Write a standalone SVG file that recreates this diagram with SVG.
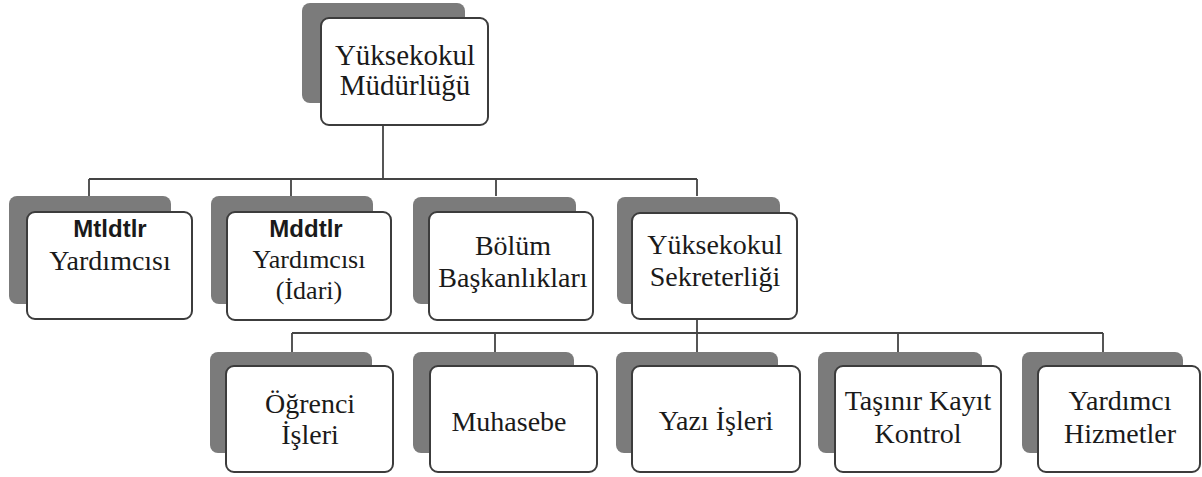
<svg xmlns="http://www.w3.org/2000/svg" width="1202" height="477" viewBox="0 0 1202 477">
<style>
.sh{fill:#7b7b7b;}
.bx{fill:#ffffff;stroke:#3c3c3c;stroke-width:2;}
.t{font-family:"Liberation Serif","Times New Roman","DejaVu Serif",serif;font-size:28px;fill:#1a1a1a;text-anchor:middle;}
.g{font-family:"Liberation Sans",Arial,sans-serif;font-weight:bold;font-size:24px;fill:#1a1a1a;text-anchor:middle;}
.c{stroke:#444;stroke-width:1.8;fill:none;}
</style>
<rect width="1202" height="477" fill="#ffffff"/>
<g id="connectors">
<path class="c" d="M383 125V179M89 179H697M89 179V196M291 179V196M496 179V196M697 179V196"/>
<path class="c" d="M697 319V352M292 333H1103M292 333V352M495 333V352M898 333V352M1103 333V352"/>
</g>
<g id="n-mudurluk">
<rect class="sh" x="302" y="3" width="163" height="100" rx="8"/>
<rect class="bx" x="321" y="18" width="167" height="107" rx="8"/>
<text class="t" x="405" y="65" font-family="Liberation Serif, serif" style="font-size:29px">Yüksekokul</text>
<text class="t" x="405" y="95" font-family="Liberation Serif, serif" style="font-size:29px">Müdürlüğü</text>
</g>
<g id="n-yardimci1">
<rect class="sh" x="9" y="196" width="162" height="108" rx="8"/>
<rect class="bx" x="27" y="212" width="165" height="107" rx="8"/>
<text class="g" x="110" y="237">Mtldtlr</text>
<text class="t" x="110" y="270">Yardımcısı</text>
</g>
<g id="n-yardimci2">
<rect class="sh" x="211" y="196" width="162" height="108" rx="8"/>
<rect class="bx" x="227" y="212" width="164" height="108" rx="8"/>
<text class="g" x="306" y="237">Mddtlr</text>
<text class="t" x="309" y="268" style="font-size:26px">Yardımcısı</text>
<text class="t" x="309" y="299" style="font-size:26px">(İdari)</text>
</g>
<g id="n-bolum">
<rect class="sh" x="413" y="197" width="163" height="107" rx="8"/>
<rect class="bx" x="429" y="212" width="164" height="108" rx="8"/>
<text class="t" x="513" y="255">Bölüm</text>
<text class="t" x="513" y="287">Başkanlıkları</text>
</g>
<g id="n-sekreterlik">
<rect class="sh" x="617" y="197" width="163" height="107" rx="8"/>
<rect class="bx" x="632" y="213" width="165" height="106" rx="8"/>
<text class="t" x="715" y="254">Yüksekokul</text>
<text class="t" x="715" y="286">Sekreterliği</text>
</g>
<g id="n-ogrenci">
<rect class="sh" x="210" y="352" width="162" height="101" rx="8"/>
<rect class="bx" x="226" y="366" width="167" height="106" rx="8"/>
<text class="t" x="310" y="413">Öğrenci</text>
<text class="t" x="310" y="444">İşleri</text>
</g>
<g id="n-muhasebe">
<rect class="sh" x="413" y="352" width="161" height="101" rx="8"/>
<rect class="bx" x="430" y="366" width="167" height="106" rx="8"/>
<text class="t" x="509" y="431">Muhasebe</text>
</g>
<g id="n-yazi">
<rect class="sh" x="616" y="352" width="162" height="101" rx="8"/>
<rect class="bx" x="632" y="366" width="168" height="106" rx="8"/>
<text class="t" x="716" y="430">Yazı İşleri</text>
</g>
<g id="n-tasinir">
<rect class="sh" x="818" y="352" width="164" height="101" rx="8"/>
<rect class="bx" x="835" y="366" width="166" height="106" rx="8"/>
<text class="t" x="918" y="410">Taşınır Kayıt</text>
<text class="t" x="918" y="443">Kontrol</text>
</g>
<g id="n-hizmetler">
<rect class="sh" x="1022" y="352" width="161" height="101" rx="8"/>
<rect class="bx" x="1038" y="366" width="162" height="106" rx="8"/>
<text class="t" x="1120" y="410">Yardımcı</text>
<text class="t" x="1120" y="443">Hizmetler</text>
</g>
</svg>
